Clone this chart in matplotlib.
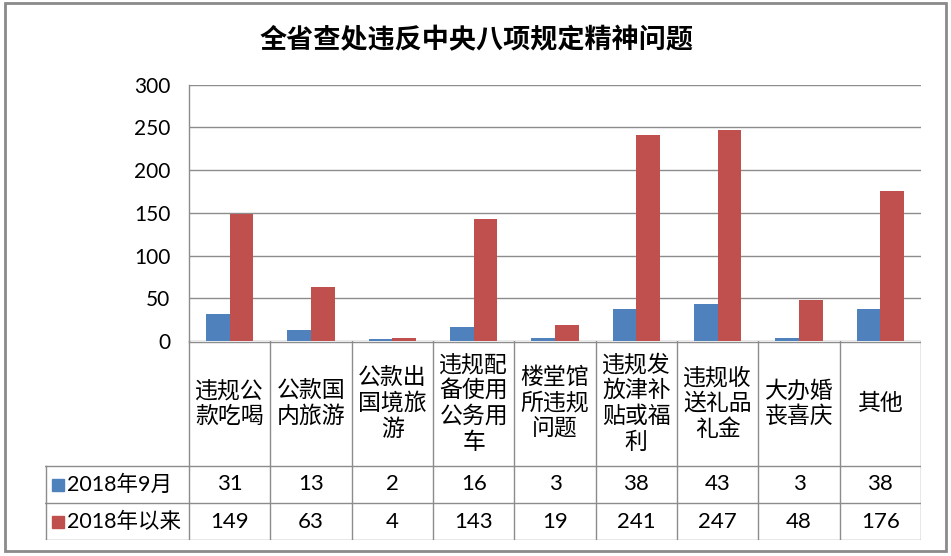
import matplotlib
matplotlib.use("Agg")
import matplotlib.pyplot as plt
from matplotlib.patches import Rectangle
import numpy as np

plt.rcParams['font.family'] = ['Lato', 'Noto Sans CJK SC', 'DejaVu Sans']

title = "全省查处违反中央八项规定精神问题"
categories = ["违规公\n款吃喝", "公款国\n内旅游", "公款出\n国境旅\n游", "违规配\n备使用\n公务用\n车",
              "楼堂馆\n所违规\n问题", "违规发\n放津补\n贴或福\n利", "违规收\n送礼品\n礼金",
              "大办婚\n丧喜庆", "其他"]
series_names = ["2018年9月", "2018年以来"]
sep2018 = [31, 13, 2, 16, 3, 38, 43, 3, 38]
since2018 = [149, 63, 4, 143, 19, 241, 247, 48, 176]
yticks = [0, 50, 100, 150, 200, 250, 300]

BLUE = "#4F81BD"
RED = "#C0504D"
GRID = "#8C8C8C"

W, H = 951, 556
fig = plt.figure(figsize=(W / 100, H / 100), dpi=100)

# outer frame
bg = fig.add_axes([0, 0, 1, 1])
bg.set_xlim(0, W); bg.set_ylim(H, 0); bg.axis('off')
bg.add_patch(Rectangle((5, 3), 941, 548, fill=False, edgecolor="#8A8A8A", lw=2))

# main plot
L, R, T, B = 189, 921, 84.5, 341
ax = fig.add_axes([L / W, (H - B) / H, (R - L) / W, (B - T) / H])
n = len(categories)
x = np.arange(n)
w = 0.29
ax.bar(x - w / 2, sep2018, w, color=BLUE, zorder=3)
ax.bar(x + w / 2, since2018, w, color=RED, zorder=3)
ax.set_xlim(-0.5, n - 0.5)
ax.set_ylim(0, 300)
ax.set_yticks(yticks)
ax.set_yticklabels([str(v) for v in yticks], fontsize=15)
ax.tick_params(axis='y', length=0, pad=13.5)
ax.set_xticks([])
ax.grid(axis='y', color=GRID, lw=1, zorder=0)
for s in ['top', 'right', 'bottom']:
    ax.spines[s].set_visible(False)
ax.spines['left'].set_color(GRID)
ax.spines['left'].set_linewidth(1)

fig.text(477 / W, 1 - 40 / H, title, ha='center', va='center', fontsize=19.5,
         fontweight='bold', family=['Noto Sans CJK SC', 'DejaVu Sans'])

# data table below
TL, TB = 45, 540
unit = (R - L) / n
xmin = -0.5 - (L - TL) / unit
tab = fig.add_axes([TL / W, (H - TB) / H, (R - TL) / W, (TB - B) / H])
tab.set_xlim(xmin, n - 0.5)
ht = TB - B
tab.set_ylim(ht, 0)
tab.axis('off')
hdr = 125
r1 = hdr + 37
r2 = ht
lc = dict(color=GRID, lw=1)
for i in range(n + 1):
    tab.plot([i - 0.5, i - 0.5], [0, r2], **lc)
for yy in [hdr, r1, r2]:
    tab.plot([xmin, n - 0.5], [yy, yy], **lc)
tab.plot([-0.5, n - 0.5], [0.5, 0.5], **lc)
tab.plot([xmin + 0.01, xmin + 0.01], [hdr, r2], **lc)

for i, c in enumerate(categories):
    tab.text(i, hdr / 2, c, ha='center', va='center', fontsize=16.5,
             linespacing=1.15, family=['Noto Sans CJK SC', 'DejaVu Sans'])
    tab.text(i, (hdr + r1) / 2, str(sep2018[i]), ha='center', va='center', fontsize=16)
    tab.text(i, (r1 + r2) / 2, str(since2018[i]), ha='center', va='center', fontsize=16)

for name, col, (y0, y1) in zip(series_names, [BLUE, RED], [(hdr, r1), (r1, r2)]):
    ym = (y0 + y1) / 2
    sq = 12 / unit
    tab.add_patch(Rectangle((xmin + 7 / unit, ym - 6), sq, 12, color=col))
    tab.text(xmin + 22 / unit, ym, name, ha='left', va='center', fontsize=15.5)

fig.savefig("out.png", dpi=100)
